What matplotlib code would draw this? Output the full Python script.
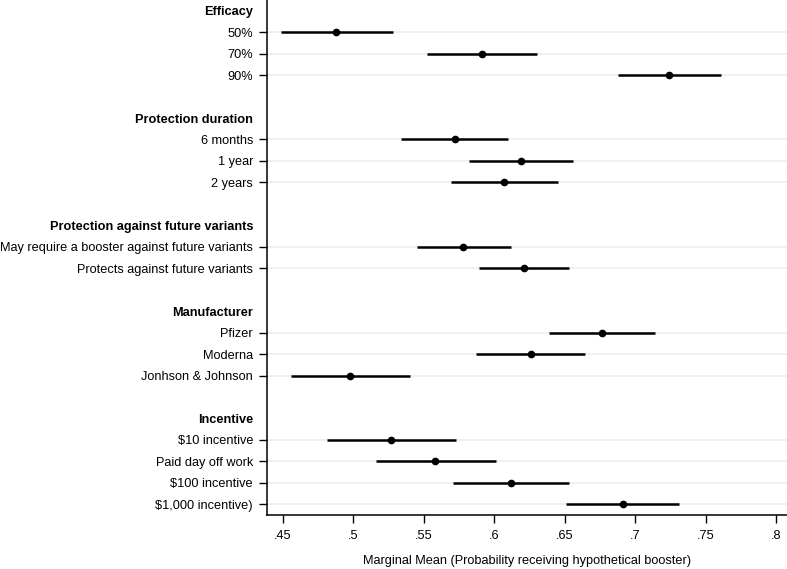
import matplotlib
matplotlib.use("Agg")
import matplotlib.pyplot as plt

plt.rcParams['font.family'] = ['Liberation Sans', 'DejaVu Sans']

groups = ["Efficacy", "Protection duration", "Protection against future variants",
          "Manufacturer", "Incentive"]
levels = [
    ["50%", "70%", "90%"],
    ["6 months", "1 year", "2 years"],
    ["May require a booster against future variants", "Protects against future variants"],
    ["Pfizer", "Moderna", "Jonhson & Johnson"],
    ["$10 incentive", "Paid day off work", "$100 incentive", "$1,000 incentive)"],
]
means = [
    [0.488, 0.591, 0.724],
    [0.572, 0.619, 0.607],
    [0.578, 0.621],
    [0.676, 0.626, 0.498],
    [0.527, 0.558, 0.612, 0.691],
]
lower = [
    [0.449, 0.552, 0.688],
    [0.534, 0.582, 0.569],
    [0.545, 0.589],
    [0.639, 0.587, 0.456],
    [0.481, 0.516, 0.571, 0.651],
]
upper = [
    [0.528, 0.630, 0.761],
    [0.610, 0.656, 0.645],
    [0.612, 0.653],
    [0.714, 0.664, 0.540],
    [0.573, 0.601, 0.653, 0.731],
]
xticks = [0.45, 0.5, 0.55, 0.6, 0.65, 0.7, 0.75, 0.8]
xticklabels = [".45", ".5", ".55", ".6", ".65", ".7", ".75", ".8"]

fig = plt.figure(figsize=(7.87, 5.69), dpi=100)
ax = fig.add_axes([267/787, 1 - 515/569, 1 - 267/787, 515/569])

pos = []
labels = []
is_header = []
y = 0
item_y, item_m, item_lo, item_hi = [], [], [], []
for g, levs, ms, los, his in zip(groups, levels, means, lower, upper):
    pos.append(y); labels.append(g); is_header.append(True)
    y += 1
    for l, m, lo, hi in zip(levs, ms, los, his):
        pos.append(y); labels.append(l); is_header.append(False)
        item_y.append(y); item_m.append(m); item_lo.append(lo); item_hi.append(hi)
        y += 1
    y += 1

ax.set_yticks(pos)
ax.set_yticklabels(labels)
ax.set_ylim(y - 1.5, -0.5)
ax.set_xlim(0.4388, 0.8075)

ax.grid(axis='y', color='#e8f0f2', linewidth=1.2, zorder=0)
ax.set_axisbelow(True)
for t, h in zip(ax.yaxis.get_major_ticks(), is_header):
    if h:
        t.gridline.set_visible(False)
        t.tick1line.set_visible(False)
        t.label1.set_fontweight('bold')

ax.hlines(item_y, item_lo, item_hi, color='black', linewidth=1.8, zorder=3)
ax.plot(item_m, item_y, 'o', color='black', markersize=4.5, zorder=4)

ax.set_xticks(xticks)
ax.set_xticklabels(xticklabels)
ax.tick_params(axis='both', labelsize=9.2, colors='black', length=6, width=1)
ax.tick_params(axis='x', pad=5)
ax.tick_params(axis='y', pad=4)
ax.set_xlabel("Marginal Mean (Probability receiving hypothetical booster)", fontsize=9.2, labelpad=9)

for s in ['top', 'right']:
    ax.spines[s].set_visible(False)
for s in ['left', 'bottom']:
    ax.spines[s].set_linewidth(1.1)

fig.savefig("out.png", dpi=100)
